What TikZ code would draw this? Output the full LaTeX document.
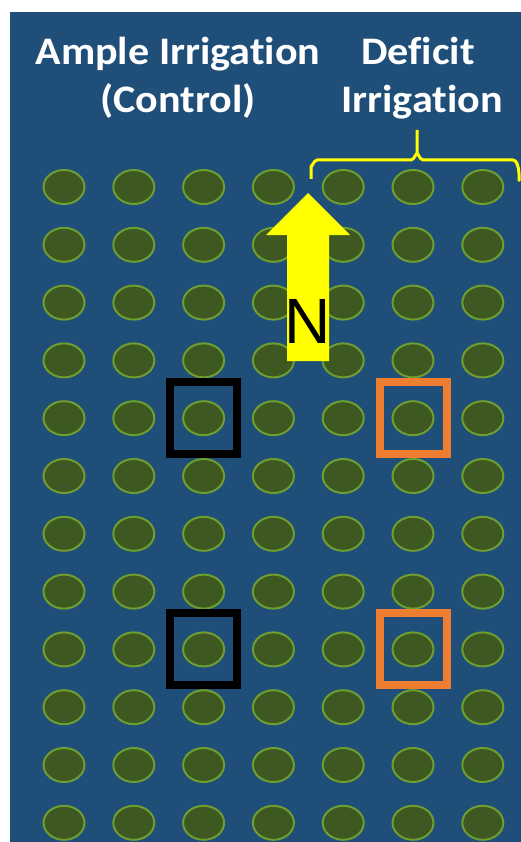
\documentclass[tikz,border=0pt]{standalone}
\usepackage{fontspec}
\setmainfont{Carlito}[Ligatures={NoCommon}]
\newfontfamily\arialfont{Liberation Sans}
\usetikzlibrary{shapes.geometric}
\definecolor{bgblue}{RGB}{31,78,121}
\definecolor{plantfill}{RGB}{62,88,33}
\definecolor{plantline}{RGB}{110,158,48}
\definecolor{arrowyellow}{RGB}{255,255,0}
\definecolor{boxorange}{RGB}{237,125,49}
\tikzset{
  plant/.style={ellipse, draw=plantline, fill=plantfill, line width=2pt,
    minimum width=41pt, minimum height=34pt, inner sep=0pt},
  plotbox/.style={draw, line width=8pt, minimum width=67pt, minimum height=72pt,
    inner sep=0pt, fill=none},
  title/.style={text=white, font=\bfseries\fontsize{39}{48}\selectfont, anchor=base, inner sep=0pt},
  bracestyle/.style={draw=arrowyellow, line width=3pt, line join=round}
}
\begin{document}
\begin{tikzpicture}[x=1pt,y=-1pt]
\useasboundingbox (0,0) rectangle (521,842);
\fill[white] (0,0) rectangle (521,842);
\fill[bgblue] (10,12) rectangle (521,842);
% plants
\foreach \i in {0,...,6}{
  \foreach \j in {0,...,11}{
    \node[plant] (p-\i-\j) at ({64+69.8*\i},{187+57.8*\j}) {};
  }
}
% titles
\node[title, xscale=1.08] (t1) at (178,65) {Ample Irrigation};
\node[title, xscale=1.08] (t2) at (178,113) {(Control)};
\node[title, xscale=1.08] (t3) at (418,65) {Deficit};
\node[title, xscale=1.08] (t4) at (422,113) {Irrigation};
% brace
\coordinate (bl) at (311,179);
\coordinate (br) at (519,179);
\coordinate (bt) at (417,130);
\draw[bracestyle] (bl) -- (311,166) to[out=-90,in=180] (317,160) -- (411,160) to[out=0,in=90] (417,154) -- (bt);
\draw[bracestyle] (417,154) to[out=90,in=180] (423,160) -- (513,160) to[out=0,in=-90] (br);
% arrow
\fill[arrowyellow] (308,193) -- (350,235) -- (329,235) -- (329,361) -- (287,361) -- (287,235) -- (266,235) -- cycle;
\node[font=\arialfont\fontsize{64}{64}\selectfont, anchor=base, inner sep=0pt] (n) at (308,343) {N};
% plot boxes
\node[plotbox, draw=black] (b1) at (p-2-4) {};
\node[plotbox, draw=black] (b2) at (p-2-8) {};
\node[plotbox, draw=boxorange] (b3) at (p-5-4) {};
\node[plotbox, draw=boxorange] (b4) at (p-5-8) {};
\end{tikzpicture}
\end{document}
